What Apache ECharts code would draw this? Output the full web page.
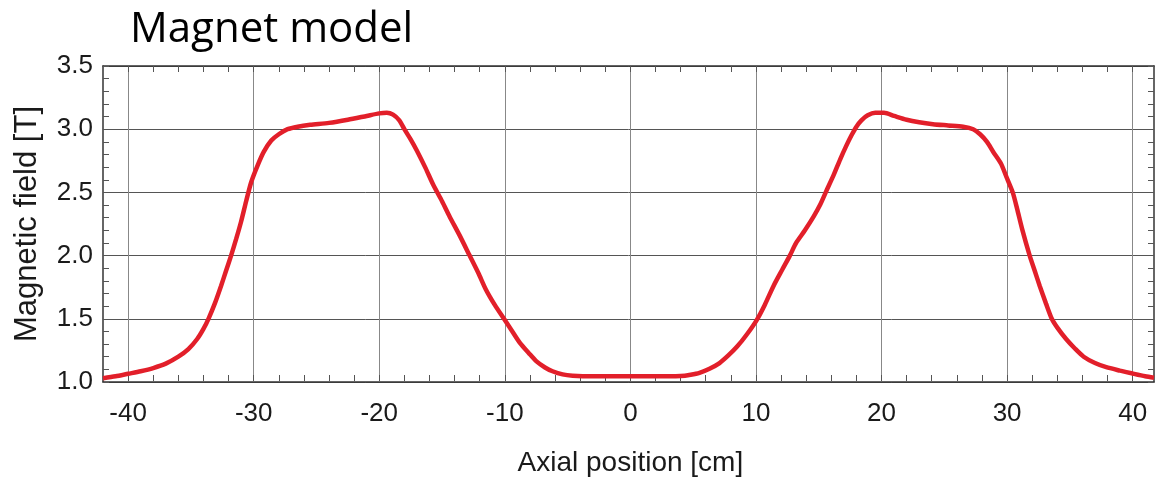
<!DOCTYPE html>
<html>
<head>
<meta charset="utf-8">
<script src="https://cdn.jsdelivr.net/npm/echarts@6/dist/echarts.min.js"></script>
<style>
html,body{margin:0;padding:0;background:#fff;}
#chart{width:1155px;height:482px;}
</style>
</head>
<body>
<div id="chart"></div>
<script>
// Axial position [cm]
const axialPosition = [
  -42, -41, -40, -39, -38, -37, -36, -35.2, -34.5, -34.0, -33.6, -33.1, -32.6, -32.2, -31.8, -31.4,
  -31.0, -30.6, -30.2, -29.7, -29.2, -28.6, -28.0, -27.3, -26.5, -25.5, -24.0, -22.5, -21.0, -20.0,
  -19.4, -18.9, -18.4, -18.0, -17.5, -17.0, -16.3, -15.7, -15.0, -14.4, -13.6, -12.8, -12.1, -11.5,
  -10.8, -10.0, -9.4, -8.8, -8.1, -7.5, -6.8, -6.2, -5.4, -4.6, -3, -1.5, 0,
  1.5, 3, 4, 4.8, 5.5, 6.3, 7.1, 7.8, 8.5, 9.3, 10.06, 10.7, 11.4, 12.1, 12.7, 13.2, 13.9, 14.6,
  15.1, 15.6, 16.2, 16.7, 17.2, 17.6, 18.0, 18.4, 18.9, 19.5, 20.2, 21.0, 22.0, 23.0, 24.1, 25.3, 26.5,
  27.3, 27.85, 28.4, 28.9, 29.5, 30.0, 30.45, 30.8, 31.2, 31.8, 32.2, 32.6, 33.1, 33.56, 34.0,
  34.7, 35.4, 36.1, 37, 37.9, 39, 40, 41, 41.7
];
// Magnetic field [T]
const magneticField = [
  1.03, 1.045, 1.065, 1.085, 1.11, 1.145, 1.20, 1.26, 1.34, 1.42, 1.50, 1.62, 1.76, 1.88, 2.00, 2.13,
  2.27, 2.43, 2.58, 2.71, 2.82, 2.91, 2.96, 3.00, 3.02, 3.035, 3.05, 3.075, 3.105, 3.125,
  3.13, 3.115, 3.07, 3.00, 2.92, 2.83, 2.69, 2.56, 2.43, 2.31, 2.16, 2.00, 1.86, 1.73,
  1.61, 1.49, 1.40, 1.31, 1.23, 1.165, 1.115, 1.085, 1.06, 1.05, 1.045, 1.045, 1.045,
  1.045, 1.045, 1.047, 1.058, 1.073, 1.105, 1.15, 1.21, 1.28, 1.38, 1.49, 1.61, 1.76, 1.89, 2.00, 2.10, 2.20, 2.31,
  2.40, 2.51, 2.64, 2.76, 2.87, 2.95, 3.02, 3.07, 3.11, 3.13, 3.13, 3.105, 3.075, 3.055, 3.04, 3.03, 3.02,
  3.00, 2.96, 2.90, 2.82, 2.73, 2.61, 2.50, 2.37, 2.21, 2.00, 1.88, 1.76, 1.62, 1.50, 1.43,
  1.34, 1.265, 1.20, 1.15, 1.117, 1.09, 1.067, 1.045, 1.033
];
const xTickMin = -40, xTickMax = 40, xTickStep = 10;
const yTickMin = 1.0, yTickMax = 3.5, yTickStep = 0.5;
const xRangeMin = -42, xRangeMax = 41.7;

const chart = echarts.init(document.getElementById('chart'), null, {renderer: 'canvas'});
const plotLeft = 103, plotRight = 1, plotTop = 66, plotBottom = 100;
const plotW = 1155 - plotLeft - plotRight;
const pxPerUnit = plotW / (xRangeMax - xRangeMin);
const innerLeft = plotLeft + (xTickMin - xRangeMin) * pxPerUnit;
const innerRight = plotRight + (xRangeMax - xTickMax) * pxPerUnit;

const labelFont = {fontFamily: 'Liberation Sans', fontSize: 26, color: '#1a1a1a'};
const tickStyle = {color: '#555', width: 1};

chart.setOption({
  animation: false,
  backgroundColor: '#fff',
  title: {
    text: 'Magnet model', left: 125, top: 4,
    textStyle: {fontFamily: 'Open Sans', fontWeight: 'normal', fontSize: 42, color: '#000'}
  },
  grid: [
    {left: plotLeft, right: plotRight, top: plotTop, bottom: plotBottom, containLabel: false},
    {left: innerLeft, right: innerRight, top: plotTop, bottom: plotBottom, containLabel: false}
  ],
  xAxis: [
    {gridIndex: 0, type: 'value', min: xRangeMin, max: xRangeMax, position: 'bottom',
     axisLine: {show: true, onZero: false, lineStyle: {color: '#333', width: 1.5}},
     axisTick: {show: false}, axisLabel: {show: false}, splitLine: {show: false}},
    {gridIndex: 0, type: 'value', min: xRangeMin, max: xRangeMax, position: 'top',
     axisLine: {show: true, onZero: false, lineStyle: {color: '#333', width: 1.5}},
     axisTick: {show: false}, axisLabel: {show: false}, splitLine: {show: false}},
    {gridIndex: 1, type: 'value', min: xTickMin, max: xTickMax, interval: xTickStep, position: 'bottom',
     name: 'Axial position [cm]', nameLocation: 'middle', nameGap: 68,
     nameTextStyle: {fontFamily: 'Liberation Sans', fontSize: 28, color: '#1a1a1a'},
     axisLine: {show: false, onZero: false},
     axisTick: {show: true, inside: true, length: 6, lineStyle: tickStyle},
     minorTick: {show: true, splitNumber: 5, length: 6, lineStyle: tickStyle},
     axisLabel: Object.assign({margin: 20}, labelFont),
     splitLine: {show: true, lineStyle: {color: '#888', width: 1}}},
    {gridIndex: 1, type: 'value', min: xTickMin, max: xTickMax, interval: xTickStep, position: 'top',
     axisLine: {show: false, onZero: false},
     axisTick: {show: true, inside: true, length: 6, lineStyle: tickStyle},
     minorTick: {show: true, splitNumber: 5, length: 6, lineStyle: tickStyle},
     axisLabel: {show: false}, splitLine: {show: false}}
  ],
  yAxis: [
    {gridIndex: 0, type: 'value', min: yTickMin, max: yTickMax, interval: yTickStep, position: 'left',
     name: 'Magnetic field [T]', nameLocation: 'middle', nameGap: 60,
     nameTextStyle: {fontFamily: 'Liberation Sans', fontSize: 31, color: '#1a1a1a'},
     axisLine: {show: true, onZero: false, lineStyle: {color: '#333', width: 1.5}},
     axisTick: {show: true, inside: true, length: 6, lineStyle: tickStyle},
     minorTick: {show: true, splitNumber: 5, length: 6, lineStyle: tickStyle},
     axisLabel: Object.assign({margin: 10, formatter: v => v.toFixed(1)}, labelFont),
     splitLine: {show: true, lineStyle: {color: '#555', width: 1}}},
    {gridIndex: 0, type: 'value', min: yTickMin, max: yTickMax, interval: yTickStep, position: 'right',
     axisLine: {show: true, onZero: false, lineStyle: {color: '#333', width: 1.5}},
     axisTick: {show: true, inside: true, length: 6, lineStyle: tickStyle},
     minorTick: {show: true, splitNumber: 5, length: 6, lineStyle: tickStyle},
     axisLabel: {show: false}, splitLine: {show: false}},
    {gridIndex: 1, type: 'value', min: yTickMin, max: yTickMax, show: false}
  ],
  series: [{
    type: 'line', xAxisIndex: 0, yAxisIndex: 0,
    data: axialPosition.map((x, i) => [x, magneticField[i]]),
    showSymbol: false, smooth: 0.25, clip: true,
    lineStyle: {color: '#E21F2A', width: 4.5}, z: 10
  }]
});
</script>
</body>
</html>
